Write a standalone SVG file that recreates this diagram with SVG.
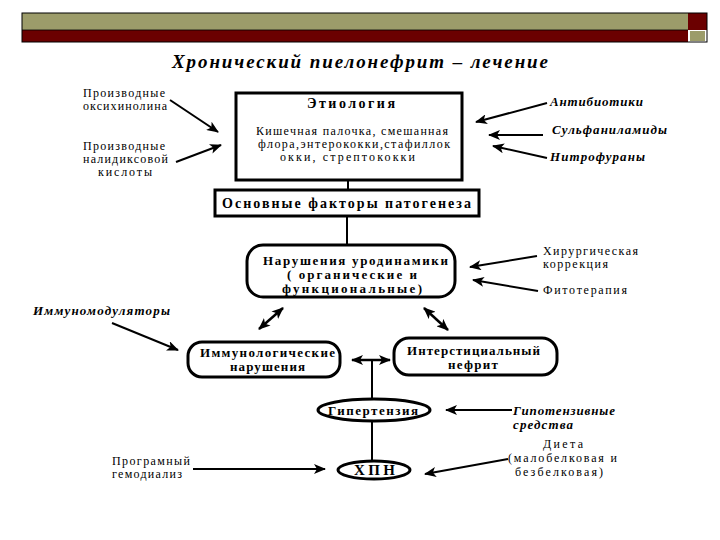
<svg xmlns="http://www.w3.org/2000/svg" width="720" height="540" viewBox="0 0 720 540">
<defs>
<marker id="ah" viewBox="0 0 12 10" refX="11" refY="5" markerWidth="12" markerHeight="10" markerUnits="userSpaceOnUse" orient="auto-start-reverse">
<path d="M0,0 L12,5 L0,10 L3,5 Z" fill="#000"/>
</marker>
</defs>
<style>
text{font-family:"Liberation Serif","DejaVu Serif","Times New Roman",serif;fill:#000}
.r{font-size:12px}
.b{font-size:13px;font-weight:bold}
.bi{font-size:13px;font-weight:bold;font-style:italic}
.c{text-anchor:middle}
.box{fill:#fff;stroke:#000;stroke-width:3}
.ln{stroke:#000;stroke-width:2;fill:none}
.ar{stroke:#000;stroke-width:2;fill:none;marker-end:url(#ah)}
.da{stroke:#000;stroke-width:2.5;fill:none;marker-end:url(#ah);marker-start:url(#ah)}
</style>
<rect width="720" height="540" fill="#fff"/>
<g id="header">
<rect x="22" y="13" width="666" height="17" fill="#9c9c6a"/>
<rect x="22" y="30" width="666" height="12" fill="#6b0000"/>
<rect x="688" y="13" width="19" height="17" fill="#6b0000"/>
<rect x="690" y="31" width="15" height="10" fill="#9c9c6a"/>
<rect x="22" y="13" width="685" height="29" fill="none" stroke="#000" stroke-width="1"/>
<line x1="22" y1="30" x2="688" y2="30" stroke="#000" stroke-width="0.8"/>
</g>
<text x="360" y="68" class="c" textLength="376" style="font-size:19px;font-weight:bold;font-style:italic">Хронический пиелонефрит – лечение</text>

<g id="connectors">
<line class="ar" x1="170" y1="100" x2="218" y2="132"/>
<line class="ar" x1="176" y1="162" x2="221" y2="145"/>
<line class="ar" x1="547" y1="103" x2="476" y2="122"/>
<line class="ar" x1="543" y1="135" x2="489" y2="135"/>
<line class="ar" x1="547" y1="158" x2="493" y2="146"/>
<line class="ln" x1="348" y1="180" x2="348" y2="190"/>
<line class="ln" x1="347" y1="216" x2="347" y2="244"/>
<line class="ar" x1="537" y1="256" x2="470" y2="267"/>
<line class="ar" x1="538" y1="291" x2="473" y2="280"/>
<line class="ar" x1="112" y1="323" x2="178" y2="350"/>
<line class="da" x1="259" y1="329" x2="283" y2="308"/>
<line class="da" x1="424" y1="308" x2="448" y2="330"/>
<line class="da" x1="352" y1="360" x2="390" y2="360"/>
<line class="ln" x1="372" y1="360" x2="372" y2="399"/>
<line class="ar" x1="512" y1="410" x2="446" y2="410"/>
<line class="ln" x1="372" y1="421" x2="372" y2="461"/>
<line class="ar" x1="193" y1="469" x2="325" y2="469"/>
<line class="ar" x1="508" y1="459" x2="425" y2="474"/>
</g>

<g id="oksi">
<text class="r" x="83" y="97" textLength="82">Производные</text>
<text class="r" x="83" y="110" textLength="84">оксихинолина</text>
</g>
<g id="nalid">
<text class="r" x="83" y="150" textLength="82">Производные</text>
<text class="r" x="83" y="163" textLength="85">налидиксовой</text>
<text class="r" x="98" y="176" textLength="54">кислоты</text>
</g>
<g id="etiology">
<rect class="box" x="236" y="93" width="226" height="87"/>
<text class="b" x="307" y="108" textLength="88" style="font-size:14px">Этиология</text>
<text class="r" x="256" y="135" textLength="192">Кишечная палочка, смешанная</text>
<text class="r" x="258" y="148" textLength="192">флора,энтерококки,стафиллок</text>
<text class="r" x="280" y="161" textLength="135">окки, стрептококки</text>
</g>
<g id="antibiotiki"><text class="bi" x="550" y="106" textLength="93">Антибиотики</text></g>
<g id="sulfa"><text class="bi" x="552" y="134" textLength="115">Сульфаниламиды</text></g>
<g id="nitro"><text class="bi" x="550" y="161" textLength="95">Нитрофураны</text></g>
<g id="factors">
<rect class="box" x="215" y="190" width="264" height="26"/>
<text class="b" x="222" y="208" textLength="249" style="font-size:14px">Основные факторы патогенеза</text>
</g>
<g id="urodin">
<rect class="box" x="247" y="245" width="208" height="52" rx="16"/>
<text class="b" x="263" y="265" textLength="185">Нарушения уродинамики</text>
<text class="b" x="287" y="279" textLength="130">( органические и</text>
<text class="b" x="282" y="293" textLength="140">функциональные)</text>
</g>
<g id="hirurg">
<text class="r" x="543" y="255" textLength="95">Хирургическая</text>
<text class="r" x="543" y="268" textLength="65">коррекция</text>
</g>
<g id="fito"><text class="r" x="543" y="294" textLength="84">Фитотерапия</text></g>
<g id="immunomod"><text class="bi" x="33" y="315" textLength="137">Иммуномодуляторы</text></g>
<g id="immun">
<rect class="box" x="188" y="342" width="152" height="35" rx="14"/>
<text class="b" x="200" y="357" textLength="135">Иммунологические</text>
<text class="b" x="230" y="371" textLength="75">нарушения</text>
</g>
<g id="inter">
<rect class="box" x="394" y="338" width="163" height="37" rx="15"/>
<text class="b" x="407" y="355" textLength="133">Интерстициальный</text>
<text class="b" x="448" y="369" textLength="50">нефрит</text>
</g>
<g id="hyper">
<ellipse class="box" cx="374" cy="410" rx="56" ry="11"/>
<text class="b" x="328" y="415" textLength="90">Гипертензия</text>
</g>
<g id="hypotenz">
<text class="bi" x="513" y="415" textLength="102">Гипотензивные</text>
<text class="bi" x="513" y="429" textLength="60">средства</text>
</g>
<g id="hpn">
<ellipse class="box" cx="374" cy="470" rx="36" ry="9"/>
<text class="b" x="354" y="475" textLength="41" style="font-size:15px">ХПН</text>
</g>
<g id="gemo">
<text class="r" x="112" y="465" textLength="78">Програмный</text>
<text class="r" x="112" y="478" textLength="70">гемодиализ</text>
</g>
<g id="dieta">
<text class="r" x="543" y="448" textLength="40">Диета</text>
<text class="r" x="508" y="462" textLength="109">(малобелковая и</text>
<text class="r" x="515" y="476" textLength="88">безбелковая)</text>
</g>
</svg>
